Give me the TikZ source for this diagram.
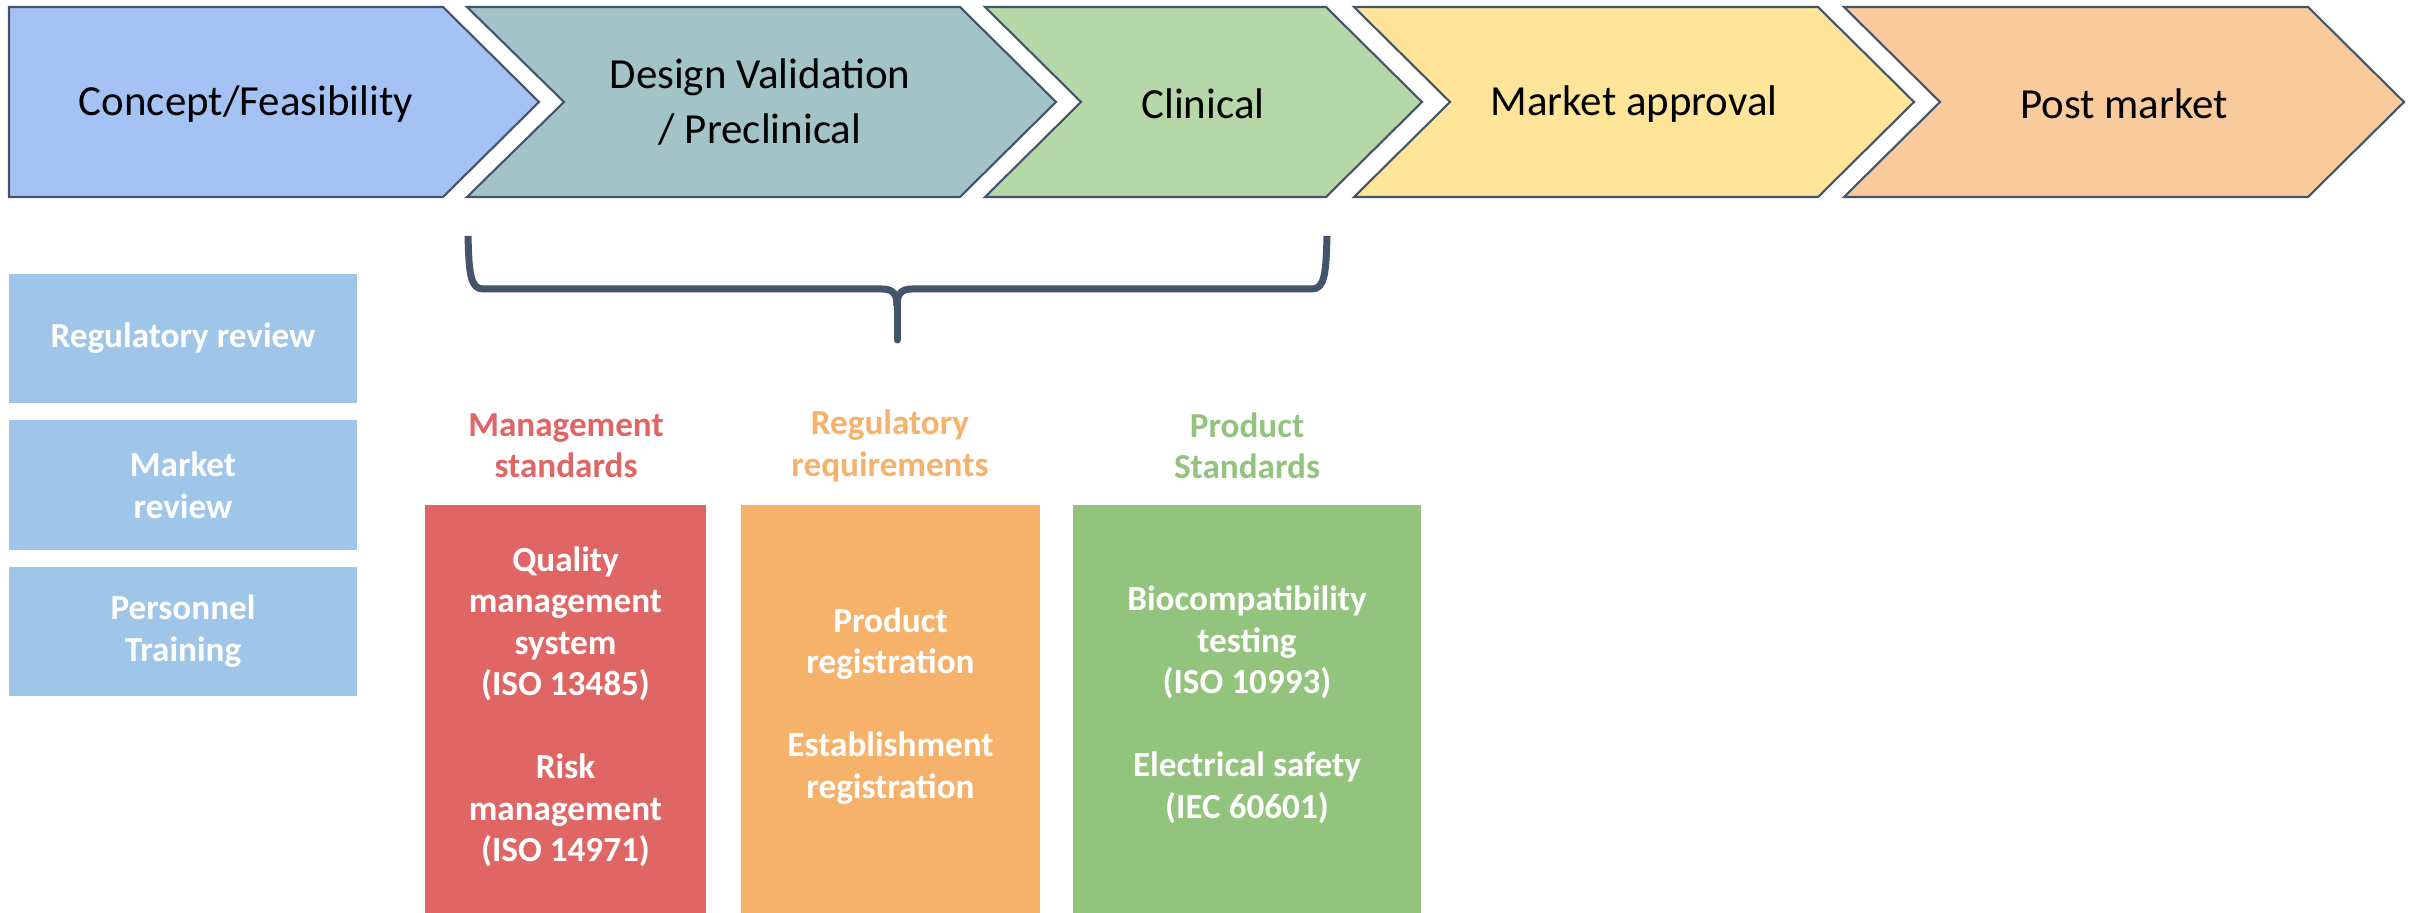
\documentclass[tikz,border=0pt]{standalone}
\usepackage{fontspec}
\setmainfont{Carlito}
\definecolor{cA}{HTML}{A4C2F4}
\definecolor{cB}{HTML}{A2C4C9}
\definecolor{cC}{HTML}{B6D7A8}
\definecolor{cD}{HTML}{FFE599}
\definecolor{cE}{HTML}{F9CB9C}
\definecolor{lblue}{HTML}{9FC5E8}
\definecolor{cred}{HTML}{E06666}
\definecolor{corange}{HTML}{F6B26B}
\definecolor{cgreen}{HTML}{93C47D}
\definecolor{slate}{HTML}{44546A}
\begin{document}
\begin{tikzpicture}[x=0.01cm,y=-0.01cm,
  chev/.style={draw=slate,line width=0.6pt},
  chevtext/.style={font=\fontsize{12.2pt}{15.6pt}\selectfont,text=black,align=center,inner sep=0pt},
  sidebox/.style={fill=lblue,minimum width=3.48cm,minimum height=1.29cm,text=white,font=\bfseries\fontsize{10pt}{11.9pt}\selectfont,align=center,inner sep=0pt},
  head/.style={font=\bfseries\fontsize{10pt}{11.7pt}\selectfont,align=center,inner sep=0pt},
  coltext/.style={text=white,font=\bfseries\fontsize{10pt}{11.8pt}\selectfont,align=center,inner sep=0pt},
  brace/.style={draw=slate,line width=0.07cm,line join=round}]
\fill[white] (0,0) rectangle (2415,913);
\useasboundingbox (0,0) rectangle (2415,913);
% chevrons
\filldraw[chev,fill=cA] (9,7) -- (443,7) -- (539,102) -- (443,197) -- (9,197) -- cycle;
\filldraw[chev,fill=cB] (467,7) -- (960,7) -- (1056,102) -- (960,197) -- (467,197) -- (564,102) -- cycle;
\filldraw[chev,fill=cC] (985,7) -- (1326,7) -- (1422,102) -- (1326,197) -- (985,197) -- (1081,102) -- cycle;
\filldraw[chev,fill=cD] (1354,7) -- (1818,7) -- (1914,102) -- (1818,197) -- (1354,197) -- (1450,102) -- cycle;
\filldraw[chev,fill=cE] (1844,7) -- (2308,7) -- (2404,102) -- (2308,197) -- (1844,197) -- (1940,102) -- cycle;
\node[chevtext] (t1) at (246,104) {Concept/Feasibility};
\node[chevtext] (t2) at (760,102) {Design Validation\\/ Preclinical};
\node[chevtext] (t3) at (1203,104) {Clinical};
\node[chevtext] (t4) at (1634,104) {Market approval};
\node[chevtext] (t5) at (2124,104) {Post market};
% side boxes
\node[sidebox] (s1) at (183,338.5) {Regulatory review};
\node[sidebox] (s2) at (183,485) {Market\\review};
\node[sidebox] (s3) at (183,631.5) {Personnel\\Training};
% brace
\draw[brace] (468,236) .. controls (469,272) and (470,289) .. (483,289) -- (882,289) .. controls (893,289) and (897,294) .. (897,306);
\draw[brace] (1327,236) .. controls (1326,272) and (1325,289) .. (1312,289) -- (912,289) .. controls (901,289) and (897,294) .. (897,306);
\draw[brace,line cap=round] (897,300) -- (897,340);
% headers
\node[head,text=cred] (h1) at (566,446) {Management\\standards};
\node[head,text=corange] (h2) at (890,446) {Regulatory\\requirements};
\node[head,text=cgreen] (h3) at (1247,446) {Product\\Standards};
% columns
\fill[cred] (425,505) rectangle (706,913);
\fill[corange] (741,505) rectangle (1040,913);
\fill[cgreen] (1073,505) rectangle (1421,913);
\node[coltext] (c1) at (565.5,707) {Quality\\management\\system\\(ISO 13485)\\[11.8pt]Risk\\management\\(ISO 14971)};
\node[coltext] (c2) at (890.5,706) {Product\\registration\\[11.8pt]Establishment\\registration};
\node[coltext] (c3) at (1247,705) {Biocompatibility\\testing\\(ISO 10993)\\[11.8pt]Electrical safety\\(IEC 60601)};
\end{tikzpicture}
\end{document}
